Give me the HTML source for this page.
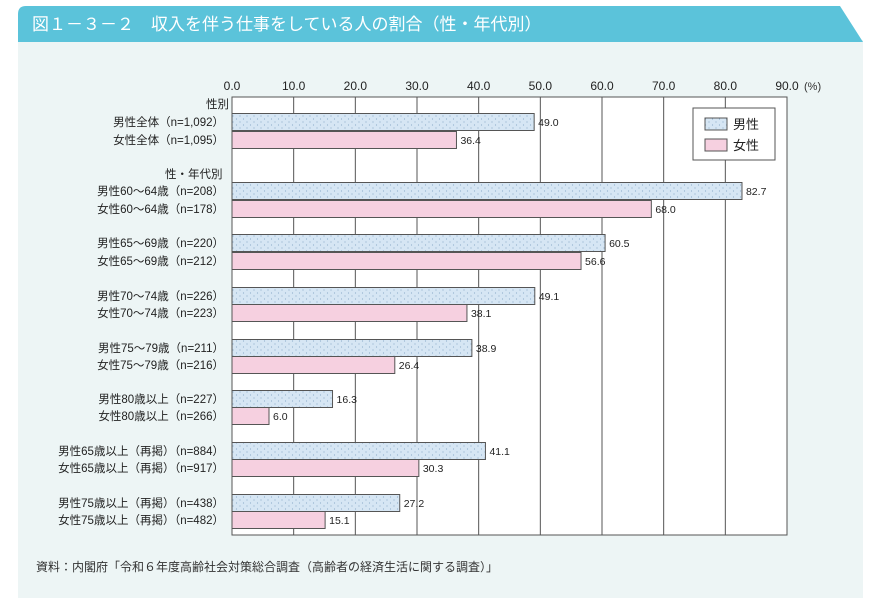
<!DOCTYPE html>
<html><head><meta charset="utf-8">
<style>
body{margin:0;background:#fff;width:870px;height:601px;overflow:hidden;font-family:"Liberation Sans","Noto Sans CJK JP",sans-serif;}
svg text{font-family:"Liberation Sans","Noto Sans CJK JP",sans-serif;}
</style></head>
<body>
<svg width="870" height="601" viewBox="0 0 870 601">
<defs>
<pattern id="dots" width="7" height="6" patternUnits="userSpaceOnUse">
<rect width="7" height="6" fill="#d6e6f4"/>
<circle cx="2" cy="2" r="0.6" fill="#8fb0cc"/>
<circle cx="5.5" cy="5" r="0.6" fill="#8fb0cc"/>
</pattern>
</defs>
<rect x="18" y="40" width="845" height="558" fill="#edf5f5"/>
<path d="M18 14 Q18 6 26 6 L840 6 L863 42 L18 42 Z" fill="#5bc3da"/>
<text x="32" y="30" font-size="17" fill="#fff">図１－３－２　収入を伴う仕事をしている人の割合（性・年代別）</text>
<rect x="232" y="97" width="555" height="438" fill="#fff" stroke="#555" stroke-width="1"/>
<g id="grid"></g>
<g id="ticks"></g>
<g id="bars"></g>
<g id="labels"></g>
<text x="804" y="90" font-size="11" fill="#333">(%)</text>
<g>
<rect x="693" y="108" width="82" height="52" fill="#fff" stroke="#555"/>
<rect x="705" y="118" width="22" height="12" fill="url(#dots)" stroke="#555"/>
<text x="733" y="129" font-size="13" fill="#222">男性</text>
<rect x="705" y="139" width="22" height="12" fill="#f6d0e0" stroke="#555"/>
<text x="733" y="150" font-size="13" fill="#222">女性</text>
</g>
<text x="206" y="108" font-size="11.5" fill="#222">性別</text>
<text x="165" y="178" font-size="11.5" fill="#222">性・年代別</text>
<text x="36" y="571" font-size="12" fill="#333">資料：内閣府「令和６年度高齢社会対策総合調査（高齢者の経済生活に関する調査）」</text>
</svg>
<script>
const categories=["男性全体（n=1,092）","女性全体（n=1,095）","男性60～64歳（n=208）","女性60～64歳（n=178）","男性65～69歳（n=220）","女性65～69歳（n=212）","男性70～74歳（n=226）","女性70～74歳（n=223）","男性75～79歳（n=211）","女性75～79歳（n=216）","男性80歳以上（n=227）","女性80歳以上（n=266）","男性65歳以上（再掲）（n=884）","女性65歳以上（再掲）（n=917）","男性75歳以上（再掲）（n=438）","女性75歳以上（再掲）（n=482）"];
const values=[49.0,36.4,82.7,68.0,60.5,56.6,49.1,38.1,38.9,26.4,16.3,6.0,41.1,30.3,27.2,15.1];
const sexes=["m","f","m","f","m","f","m","f","m","f","m","f","m","f","m","f"];
const tickValues=[0,10,20,30,40,50,60,70,80,90];
const rowCenters=[122,140,191,209,243,261,296,313,348,365,399,416,451,468,503,520];
const NS="http://www.w3.org/2000/svg";
const x=v=>232+v*(787-232)/90;
function mk(tag,attrs,parent,txt){const e=document.createElementNS(NS,tag);for(const k in attrs)e.setAttribute(k,attrs[k]);if(txt!==undefined)e.textContent=txt;parent.appendChild(e);return e;}
const grid=document.getElementById('grid'),ticks=document.getElementById('ticks'),bars=document.getElementById('bars'),labels=document.getElementById('labels');
tickValues.forEach(t=>{
 if(t>0&&t<90){const l=mk('line',{x1:x(t),x2:x(t),y1:97,y2:535,stroke:'#555','stroke-width':1},grid);
 
 }
 const tx=mk('text',{x:x(t),y:90,'font-size':12,'text-anchor':'middle',fill:'#222'},ticks,t.toFixed(1));
 
 
});
categories.forEach((c,i)=>{
 const y=rowCenters[i];
 const r=mk('rect',{x:232,y:y-8.5,width:x(values[i])-232,height:17,fill:sexes[i]==='m'?'url(#dots)':'#f6d0e0',stroke:'#555','stroke-width':1},bars);
 
 
 const v=mk('text',{x:x(values[i])+4,y:y+4,'font-size':10.5,fill:'#222'},labels,values[i].toFixed(1));
 
 
 const cl=mk('text',{x:224,y:y+4,'font-size':11.5,'text-anchor':'end',fill:'#222'},labels,c);
 
 
});
</script>
</body></html>
